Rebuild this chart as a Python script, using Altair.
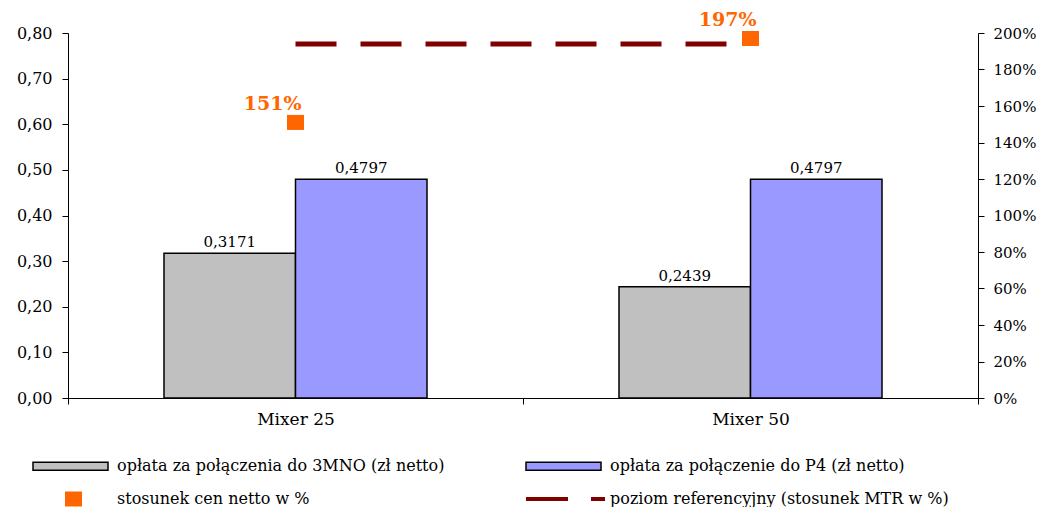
import altair as alt
import pandas as pd

categories = ["Mixer 25", "Mixer 50"]
series_names = [
    "opłata za połączenia do 3MNO (zł netto)",
    "opłata za połączenie do P4 (zł netto)",
    "stosunek cen netto w %",
    "poziom referencyjny (stosunek MTR w %)",
]
price_3mno = [0.3171, 0.2439]
price_p4 = [0.4797, 0.4797]
ratio_pct = [1.51, 1.97]
reference_level = [1.94, 1.94]
colors = ["#C0C0C0", "#9999FF", "#FF6600", "#800000"]
left_ticks = [0.0, 0.1, 0.2, 0.3, 0.4, 0.5, 0.6, 0.7, 0.8]
right_ticks = [0.0, 0.2, 0.4, 0.6, 0.8, 1.0, 1.2, 1.4, 1.6, 1.8, 2.0]

FONT = "DejaVu Serif"

bars_df = pd.DataFrame(
    [{"category": c, "series": series_names[0], "value": v} for c, v in zip(categories, price_3mno)]
    + [{"category": c, "series": series_names[1], "value": v} for c, v in zip(categories, price_p4)]
)
ratio_df = pd.DataFrame({"category": categories, "series": series_names[2], "ratio": ratio_pct})
ref_df = pd.DataFrame({"category": categories, "series": series_names[3], "ratio": reference_level})

# legend symbol paths (scaled by sqrt(size)/2 = 7.5 px per unit), centred on the square marker
rect_path = "M-5.4,-0.533H4.6V0.533H-5.4Z"
square_path = "M-1.133,-1.0H1.133V1.0H-1.133Z"
dash_path = "M-5.4,-0.267H0.2V0.267H-5.4Z M3.267,-0.267H5.133V0.267H3.267Z"

legend = alt.Legend(
    orient="none", legendX=-35, legendY=424.5, direction="horizontal", columns=2, columnPadding=78,
    rowPadding=14, padding=0, title=None, labelFont=FONT, labelFontSize=16,
    labelLimit=600, labelOffset=35, symbolOffset=32, symbolSize=225, symbolStrokeWidth=1.5,
    labelColor="black",
)

fill_scale = alt.Scale(domain=series_names, range=colors)
shape_scale = alt.Scale(domain=series_names, range=[rect_path, rect_path, square_path, dash_path])
stroke_scale = alt.Scale(domain=series_names, range=["black", "black", "transparent", "transparent"])

x_enc = alt.X(
    "category:N", sort=categories,
    scale=alt.Scale(paddingInner=0, paddingOuter=0),
    axis=alt.Axis(title=None, labelAngle=0, tickBand="extent", tickSize=6,
                  labelPadding=7, labelFontSize=17, domainColor="black", tickColor="black"),
)

y_left = alt.Y(
    "value:Q", scale=alt.Scale(domain=[0, 0.8], nice=False, zero=True),
    axis=alt.Axis(orient="left", title=None, values=left_ticks, format=".2f", grid=False,
                  tickSize=6, labelPadding=10, labelFontSize=16, domainColor="black", tickColor="black"),
)

xoff = alt.XOffset("series:N", sort=series_names[:2],
                   scale=alt.Scale(domain=series_names[:2], paddingInner=0, paddingOuter=0.73))

bars = alt.Chart(bars_df).mark_bar(stroke="black", strokeWidth=1.5).encode(
    x=x_enc,
    xOffset=xoff,
    y=y_left,
    fill=alt.Fill("series:N", scale=fill_scale, legend=legend),
)

bar_text = alt.Chart(bars_df).mark_text(baseline="alphabetic", dy=-6, font=FONT, fontSize=15, color="black").encode(
    x=x_enc,
    xOffset=xoff,
    y=y_left,
    text=alt.Text("value:Q", format=".4f"),
)

y_right = alt.Y(
    "ratio:Q", scale=alt.Scale(domain=[0, 2], nice=False, zero=True),
    axis=alt.Axis(orient="right", title=None, values=right_ticks, format=".0%", grid=False,
                  tickSize=6, labelPadding=9, labelFontSize=15, domainColor="black", tickColor="black"),
)

ref_line = alt.Chart(ref_df).mark_line(color="#800000", strokeWidth=5, strokeDash=[41, 24], strokeCap="butt").encode(
    x=x_enc,
    y=y_right,
)

points = alt.Chart(ratio_df).mark_point(filled=True, opacity=1, size=225, strokeWidth=1.5).encode(
    x=x_enc,
    y=y_right,
    fill=alt.Fill("series:N", scale=fill_scale, legend=legend),
    shape=alt.Shape("series:N", scale=shape_scale, legend=legend),
    stroke=alt.Stroke("series:N", scale=stroke_scale, legend=legend),
)

point_text = alt.Chart(ratio_df).mark_text(
    align="right", baseline="alphabetic", dx=6, dy=-12, font=FONT, fontSize=19,
    fontWeight="bold", color="#FF6600",
).encode(
    x=x_enc,
    y=y_right,
    text=alt.Text("ratio:Q", format=".0%"),
)

left = alt.layer(bars, bar_text)
right = alt.layer(ref_line, points, point_text)

chart = alt.layer(left, right).resolve_scale(y="independent").properties(
    width=910, height=365,
    padding={"left": 60, "top": 25, "right": 59, "bottom": 109},
    autosize=alt.AutoSizeParams(type="none"),
).configure(
    locale={"number": {"decimal": ",", "thousands": " ", "grouping": [3], "currency": ["", " zł"]}},
).configure_view(stroke=None).configure_axis(
    labelFont=FONT, labelColor="black", domainWidth=1, tickWidth=1,
)

chart.save("out.html", embed_options={"renderer": "svg", "actions": False})
